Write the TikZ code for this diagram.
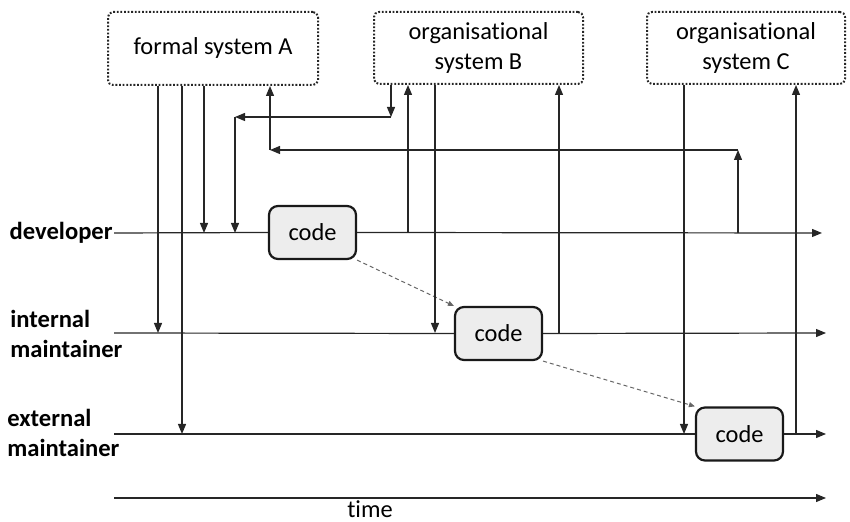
\documentclass[tikz,border=0pt]{standalone}
\usepackage{fontspec}
\setmainfont{Carlito}[Ligatures={NoCommon,NoRequired,NoContextual}]
\usetikzlibrary{arrows.meta}
\tikzset{
  sysbox/.style={draw=black!85, line width=1pt, dash pattern=on 0.9pt off 0.9pt, rounded corners=2.5pt, align=center, inner sep=0pt},
  codebox/.style={draw=black!90, line width=1.1pt, rounded corners=4.5pt, fill=black!7, minimum width=43.5pt, minimum height=26.5pt, inner sep=0pt},
  lbl/.style={font=\fontsize{12.3}{15}\selectfont\bfseries, align=left, inner sep=0pt},
  flow/.style={line width=0.6pt, draw=black!85},
  arr/.style={flow, -{Triangle[length=5pt,width=4pt]}},
  handover/.style={line width=0.5pt, draw=black!60, dash pattern=on 2pt off 1.5pt, -{Triangle[length=3pt,width=2.5pt]}}
}
\begin{document}
\begin{tikzpicture}[x=0.5pt, y=-0.5pt, font=\fontsize{12.2}{15}\selectfont]
\useasboundingbox (0,0) rectangle (850,522);
% system boxes
\node[sysbox, minimum width=105pt, minimum height=36.5pt] (A) at (213,48.5) {formal system A};
\node[sysbox, minimum width=104.5pt, minimum height=36pt] (B) at (478.5,48) {organisational\\system B};
\node[sysbox, minimum width=99pt, minimum height=36pt] (C) at (746,48) {organisational\\system C};
% role labels
\node[lbl, anchor=east] (devl) at (113,233) {developer};
\node[lbl, anchor=west] (intl) at (10,334) {internal\\maintainer};
\node[lbl, anchor=west] (extl) at (7,433) {external\\maintainer};
\node[inner sep=0pt] (time) at (370,509) {time};
% code boxes
\node[codebox] (c1) at (312.5,232.5) {code};
\node[codebox] (c2) at (498.5,333.5) {code};
\node[codebox] (c3) at (739.5,434) {code};
% lifeline coordinates
\coordinate (d0) at (114,233);
\coordinate (d1) at (822,233);
\coordinate (i0) at (114,333);
\coordinate (i1) at (826,333);
\coordinate (e0) at (114,434);
\coordinate (e1) at (826,434);
\coordinate (t0) at (114,498);
\coordinate (t1) at (826,498);
% lifelines
\draw[flow] (d0) -- (c1.west);
\draw[arr] (c1.east) -- (d1);
\draw[flow] (i0) -- (c2.west);
\draw[arr] (c2.east) -- (i1);
\draw[flow] (e0) -- (c3.west);
\draw[arr] (c3.east) -- (e1);
\draw[arr] (t0) -- (t1);
% handovers
\draw[handover] (c1.south east) -- (c2.north west);
\draw[handover] (c2.south east) -- (c3.north west);
% system A to roles
\draw[arr] (158,0 |- A.south) -- (158,0 |- i0);
\draw[arr] (182,0 |- A.south) -- (182,0 |- e0);
\draw[arr] (204,0 |- A.south) -- (204,0 |- d0);
% system B to developer via corner
\coordinate (b1) at (391,117);
\coordinate (b2) at (235,117);
\draw[arr] (391,0 |- B.south) -- (b1);
\draw[arr] (b1) -- (b2);
\draw[arr] (b2) -- (235,0 |- d0);
% developer to B
\draw[arr] (408,0 |- d0) -- (408,0 |- B.south);
% B to internal maintainer
\draw[arr] (435,0 |- B.south) -- (435,0 |- i0);
% internal maintainer to B
\draw[arr] (559,0 |- i0) -- (559,0 |- B.south);
% C to external maintainer and back
\draw[arr] (684,0 |- C.south) -- (684,0 |- e0);
\draw[arr] (796,0 |- e0) -- (796,0 |- C.south);
% developer to A via corner
\coordinate (a1) at (738,150);
\coordinate (a2) at (270,150);
\draw[arr] (738,0 |- d0) -- (a1);
\draw[arr] (a1) -- (a2);
\draw[arr] (a2) -- (270,0 |- A.south);
\end{tikzpicture}
\end{document}
